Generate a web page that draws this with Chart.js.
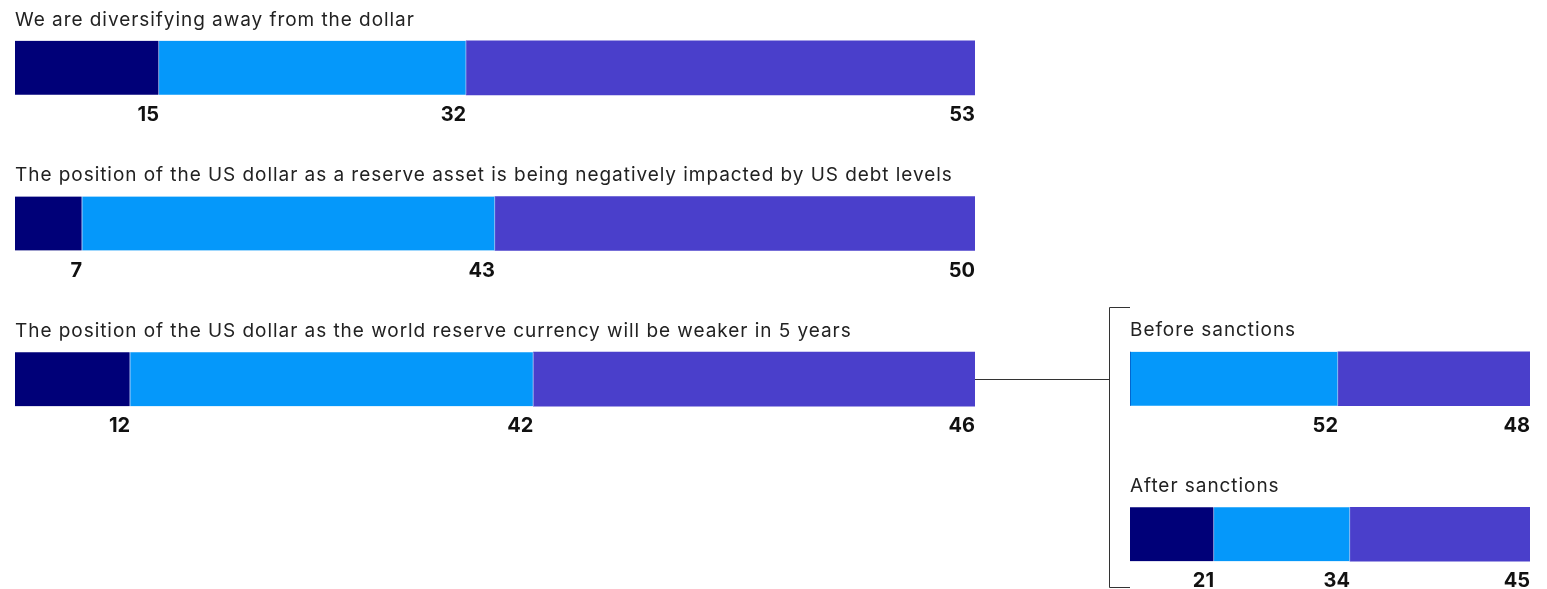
<!DOCTYPE html>
<html>
<head>
<meta charset="utf-8">
<script src="https://cdn.jsdelivr.net/npm/chart.js@4.4.1/dist/chart.umd.min.js"></script>
<style>
  html, body { margin: 0; padding: 0; background: #fff; overflow: hidden; }
  #wrap { position: relative; width: 1547px; height: 589px; }
  canvas { position: absolute; left: 0; }
  #left_chart { top: -10px; }
  #right_chart { top: 301px; }
</style>
</head>
<body>
<div id="wrap">
  <canvas id="left_chart" width="1547" height="467"></canvas>
  <canvas id="right_chart" width="1547" height="311"></canvas>
</div>
<script>
// statements (left panel)
var statements = [
    'We are diversifying away from the dollar',
    'The position of the US dollar as a reserve asset is being negatively impacted by US debt levels',
    'The position of the US dollar as the world reserve currency will be weaker in 5 years'
];
var darkValues = [15, 7, 12];
var skyValues = [32, 43, 42];
var purpleValues = [53, 50, 46];

// sanctions breakdown (right panel)
var sanctionLabels = ['Before sanctions', 'After sanctions'];
var sanctionDark = [0, 21];
var sanctionSky = [52, 34];
var sanctionPurple = [48, 45];

var seriesNames = ['Share 1', 'Share 2', 'Share 3'];
var colors = ['#000078', '#0598fa', '#4a3fcb'];

var titleFont = '19px Inter';
var valueFont = 'bold 20px Inter';

var leftChart = null;
var rightChart = null;

function makeDatasets(values) {
    return values.map((v, i) => ({
        label: seriesNames[i],
        data: v,
        backgroundColor: colors[i],
        borderColor: '#b4c6f2',
        borderWidth: {left: 0, right: i < 2 ? 1 : 0, top: 0, bottom: 0},
        borderSkipped: false,
        barThickness: 54
    }));
}

var barText = {
    id: 'barText',
    afterDatasetsDraw(chart) {
        var ctx = chart.ctx;
        var labels = chart.data.labels;
        ctx.save();
        // titles above each bar
        var meta0 = chart.getDatasetMeta(0);
        meta0.data.forEach((el, j) => {
            ctx.font = titleFont;
            ctx.letterSpacing = '0.95px';
            ctx.fillStyle = '#222';
            ctx.textAlign = 'left';
            ctx.textBaseline = 'middle';
            ctx.fillText(labels[j], chart.chartArea.left, el.y - el.height / 2 - 21);
        });
        ctx.letterSpacing = '0px';
        // values under segment ends
        chart.data.datasets.forEach((ds, i) => {
            chart.getDatasetMeta(i).data.forEach((el, j) => {
                if (!ds.data[j]) return;
                ctx.font = valueFont;
                ctx.fillStyle = '#111';
                ctx.textAlign = 'right';
                ctx.textBaseline = 'middle';
                ctx.fillText(String(ds.data[j]), el.x, el.y + el.height / 2 + 20);
            });
        });
        ctx.restore();
    }
};

var bracket = {
    id: 'bracket',
    afterDraw(chart) {
        var ctx = chart.ctx;
        var first = chart.getDatasetMeta(1).data[0];
        var last = chart.getDatasetMeta(1).data[chart.data.labels.length - 1];
        var bx = chart.chartArea.left - 20.5;
        var top = Math.round(first.y - first.height / 2 - 45) + 0.5;
        var bottom = Math.round(last.y + last.height / 2 + 26) + 0.5;
        var cy = Math.round(first.y) + 0.5;
        ctx.save();
        ctx.strokeStyle = '#333';
        ctx.lineWidth = 1;
        ctx.beginPath();
        ctx.moveTo(leftChart.chartArea.right, cy);
        ctx.lineTo(bx, cy);
        ctx.moveTo(chart.chartArea.left, top);
        ctx.lineTo(bx, top);
        ctx.lineTo(bx, bottom);
        ctx.lineTo(chart.chartArea.left, bottom);
        ctx.stroke();
        ctx.restore();
    }
};

function commonOptions(pad) {
    return {
        indexAxis: 'y',
        responsive: false,
        animation: false,
        layout: {padding: pad},
        plugins: {legend: {display: false}, tooltip: {enabled: false}},
        scales: {
            x: {stacked: true, min: 0, max: 100, display: false},
            y: {stacked: true, display: false}
        }
    };
}

leftChart = new Chart(document.getElementById('left_chart'), {
    type: 'bar',
    data: {
        labels: statements,
        datasets: makeDatasets([darkValues, skyValues, purpleValues])
    },
    options: commonOptions({left: 15, right: 572, top: 0, bottom: 0}),
    plugins: [barText]
});

rightChart = new Chart(document.getElementById('right_chart'), {
    type: 'bar',
    data: {
        labels: sanctionLabels,
        datasets: makeDatasets([sanctionDark, sanctionSky, sanctionPurple])
    },
    options: commonOptions({left: 1130, right: 17, top: 0, bottom: 0}),
    plugins: [barText, bracket]
});
</script>
</body>
</html>
